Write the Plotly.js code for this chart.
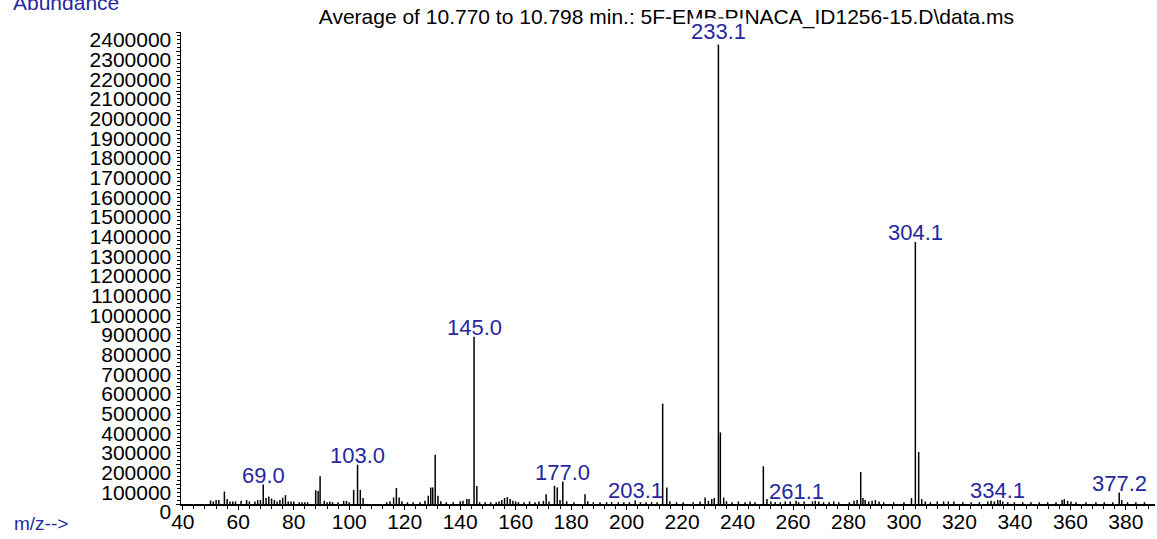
<!DOCTYPE html>
<html>
<head>
<meta charset="utf-8">
<script src="https://cdn.plot.ly/plotly-3.0.1.min.js"></script>
<style>
  html, body { margin: 0; padding: 0; background: #fff; }
  #chart { width: 1157px; height: 539px; }
</style>
</head>
<body>
<div id="chart"></div>
<script>
// m/z values and abundances
const mz = [
  50, 51, 52, 53, 55, 56, 57, 58, 59, 61, 63, 64, 66, 67, 68, 69, 70, 71, 72, 73,
  74, 75, 76, 77, 78, 79, 80, 82, 83, 84, 85, 87.9, 88.8, 89.5, 91, 92, 93, 94, 96, 98,
  99, 100, 101.6, 103, 104, 105, 113.5, 114.7, 116, 117, 118, 119, 121, 123, 125.5, 127.3, 128.5, 129.4, 130.1, 131,
  132, 133, 135, 137.5, 140, 141, 142.4, 143.2, 145, 146, 147, 149, 151, 153, 154, 155, 156, 157, 158, 159,
  160, 161, 163, 165, 167, 168.4, 170, 171, 172, 174, 175, 176, 177, 178.4, 181, 185, 186, 188, 190.4, 192.8,
  194.6, 197, 199, 201, 203.1, 205, 207, 209, 211, 213, 214.5, 215.6, 218, 220.4, 224, 226.5, 228.3, 229.5, 230.7, 231.6,
  233.1, 233.8, 235, 236, 238, 240.3, 242.7, 244.5, 246.3, 249.3, 250.6, 252, 253.6, 255.4, 257.2, 259, 261.1, 262, 264, 267,
  268, 269.3, 271, 273, 274.7, 276.5, 280.3, 282, 283.1, 284.4, 285.2, 286, 287.3, 288.5, 289.7, 291, 292.7, 296.3, 300, 302.7,
  304.1, 305.3, 306.4, 307.7, 309.5, 312, 314.3, 316, 318, 321.2, 324.2, 327.2, 330.2, 331.4, 332.6, 333.8, 334.7, 335.6, 337.4, 339.8,
  342.8, 345.8, 348.8, 351.8, 354.8, 357, 357.8, 359, 360.2, 362, 365.6, 369.2, 372.2, 375.3, 377.6, 378.5, 380.6, 383.6, 386.7
];
const abundance = [
  18000, 13000, 20000, 20000, 63000, 26000, 13000, 13000, 13000, 17000, 20000, 13000, 13000, 20000, 20000, 99000, 30000, 38000, 28000, 20000,
  13000, 20000, 32000, 45000, 13000, 13000, 13000, 9000, 9000, 9000, 9000, 70000, 66000, 141000, 16000, 9000, 13000, 9000, 9000, 16000,
  16000, 9000, 72000, 200000, 72000, 30000, 9000, 14000, 33000, 81000, 33000, 14000, 9000, 9000, 9000, 16000, 42000, 84000, 84000, 251000,
  42000, 14000, 9000, 9000, 14000, 16000, 25000, 25000, 850000, 92000, 9000, 9000, 9000, 9000, 13000, 20000, 30000, 35000, 25000, 16000,
  13000, 9000, 9000, 13000, 9000, 13000, 16000, 50000, 13000, 92000, 84000, 20000, 114000, 14000, 9000, 50000, 14000, 9000, 9000, 9000,
  9000, 9000, 9000, 9000, 18000, 9000, 9000, 9000, 9000, 510000, 84000, 14000, 9000, 9000, 9000, 13000, 33000, 16000, 25000, 30000,
  2353000, 364000, 33000, 14000, 9000, 13000, 9000, 13000, 9000, 192000, 25000, 13000, 9000, 9000, 13000, 13000, 16000, 9000, 13000, 13000,
  16000, 13000, 9000, 9000, 13000, 9000, 9000, 16000, 20000, 163000, 30000, 20000, 13000, 16000, 20000, 13000, 9000, 9000, 9000, 30000,
  1332000, 264000, 25000, 13000, 9000, 13000, 13000, 13000, 13000, 9000, 9000, 9000, 13000, 16000, 13000, 20000, 20000, 13000, 9000, 9000,
  9000, 9000, 9000, 9000, 9000, 20000, 25000, 16000, 13000, 9000, 9000, 9000, 9000, 9000, 58000, 20000, 9000, 9000, 9000
];
// labelled peaks
const labelMz = [69, 103, 145, 177, 203.1, 233.1, 261.1, 304.1, 334.1, 377.6];
const labelText = ["69.0", "103.0", "145.0", "177.0", "203.1", "233.1", "261.1", "304.1", "334.1", "377.2"];
const yTickVals = [0, 100000, 200000, 300000, 400000, 500000, 600000, 700000, 800000, 900000, 1000000, 1100000, 1200000,
  1300000, 1400000, 1500000, 1600000, 1700000, 1800000, 1900000, 2000000, 2100000, 2200000, 2300000, 2400000];
const xTickVals = [40, 60, 80, 100, 120, 140, 160, 180, 200, 220, 240, 260, 280, 300, 320, 340, 360, 380];
const titleText = "Average of 10.770 to 10.798 min.: 5F-EMB-PINACA_ID1256-15.D\\data.ms";

const BLUE = "#27279f";
const SANS = "Liberation Sans, Arial, sans-serif";

// stick spectrum: each peak a vertical line from 0
const sx = [], sy = [];
for (let i = 0; i < mz.length; i++) {
  sx.push(mz[i], mz[i], null);
  sy.push(0, abundance[i], null);
}

const annotations = labelMz.map((m, k) => {
  let best = 0;
  for (let i = 0; i < mz.length; i++) if (Math.abs(mz[i] - m) < Math.abs(mz[best] - m)) best = i;
  const isTop = labelText[k] === "233.1";
  return {
    x: mz[best], y: abundance[best], xref: "x", yref: "y",
    text: labelText[k], showarrow: false, xanchor: "center", yanchor: "bottom",
    yshift: -4, borderpad: 0,
    bgcolor: isTop ? "#ffffff" : "rgba(0,0,0,0)",
    font: {family: SANS, size: 22, color: BLUE}
  };
});
annotations.push({
  xref: "paper", yref: "paper", x: 0, y: 1, xanchor: "left", yanchor: "middle",
  xshift: -170, yshift: 30, text: "Abundance", showarrow: false,
  font: {family: SANS, size: 21, color: BLUE}
});
annotations.push({
  xref: "paper", yref: "paper", x: 0, y: 0, xanchor: "left", yanchor: "middle",
  xshift: -169, yshift: -19, text: "m/z-->", showarrow: false,
  font: {family: SANS, size: 19, color: BLUE}
});

const data = [{
  type: "scatter", mode: "lines", x: sx, y: sy,
  line: {color: "#000", width: 1.5}, hoverinfo: "skip", connectgaps: false
}];

const layout = {
  width: 1157, height: 539,
  margin: {l: 181, r: 2, t: 32, b: 35},
  paper_bgcolor: "#fff", plot_bgcolor: "#fff",
  showlegend: false,
  title: {
    text: titleText, xref: "container", yref: "container",
    x: 0.576, xanchor: "center", y: 0.97, yanchor: "middle",
    font: {family: SANS, size: 21, color: "#000"}
  },
  xaxis: {
    range: [39.35, 390.5], showgrid: false, zeroline: false,
    showline: true, linecolor: "#000", linewidth: 1.5,
    tickmode: "array", tickvals: xTickVals, ticktext: xTickVals.map(String),
    ticks: "outside", ticklen: 4, tickcolor: "#000", tickwidth: 1,
    ticklabelstandoff: -6,
    minor: {dtick: 4, ticklen: 3, ticks: "outside", tickcolor: "#000", tickwidth: 1, showgrid: false},
    tickfont: {family: SANS, size: 21, color: "#000"}
  },
  yaxis: {
    range: [0, 2400000], showgrid: false, zeroline: false,
    showline: true, linecolor: "#000", linewidth: 1.5,
    tickmode: "array", tickvals: yTickVals, ticktext: yTickVals.map(String),
    ticks: "outside", ticklen: 4, tickcolor: "#000", tickwidth: 1,
    ticklabelposition: "outside", ticklabelstandoff: 0, ticklabelshift: 8,
    minor: {dtick: 20000, ticklen: 3, ticks: "outside", tickcolor: "#000", tickwidth: 1, showgrid: false},
    tickfont: {family: SANS, size: 21, color: "#000"}
  },
  annotations: annotations
};

Plotly.newPlot("chart", data, layout, {displayModeBar: false, staticPlot: true});
</script>
</body>
</html>
